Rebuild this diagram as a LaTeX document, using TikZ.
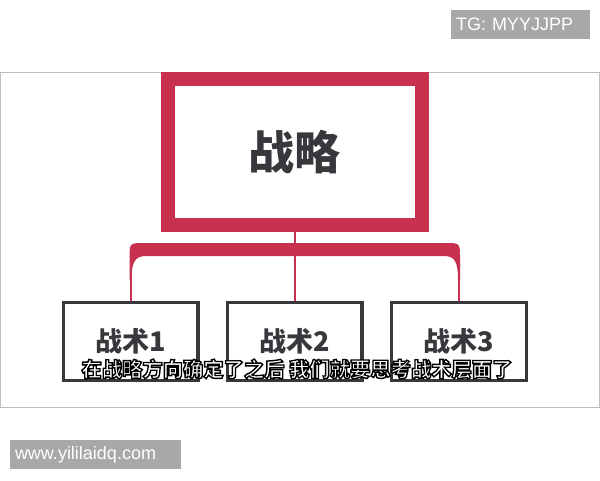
\documentclass[tikz,border=0pt]{standalone}
\usepackage{fontspec}
\setmainfont{Liberation Sans}
\newfontfamily\cjk{Noto Sans CJK SC}

\definecolor{stratred}{RGB}{200,48,80}
\definecolor{boxgray}{RGB}{55,55,60}
\definecolor{tagfill}{RGB}{168,168,168}

% outlined caption text
\newcommand{\outlined}[1]{\special{pdf:literal direct 2 Tr 1.4 w 0 G}#1\special{pdf:literal direct 0 Tr}}

\tikzset{
  tactic/.style={draw=boxgray,
    line width=3.3,
    fill=white,
    minimum width=134.7,
    minimum height=77.7,
    inner sep=0,
    text=boxgray,
    font=\cjk\bfseries\fontsize{27}{27}\selectfont},
  tag/.style={fill=tagfill,
    text=white,
    minimum height=29,
    inner xsep=5,
    inner ysep=0,
    align=left,
    font=\fontsize{18}{18}\selectfont},
  link/.style={draw=stratred, line width=2}
}

\begin{document}
\begin{tikzpicture}[x=1pt,y=-1pt]
    \useasboundingbox[fill=white] (0,0) rectangle (600,480);

    % Slide frame
    \draw[gray!50, line width=1] (0,72) rectangle (599,407);

    % Strategy
    \node[draw=stratred,
      line width=14,
      minimum width=254,
      minimum height=146,
      inner sep=0,
      text=boxgray,
      font=\cjk\bfseries\fontsize{46}{46}\selectfont] (strategy) at (294.5,152) {战略};

    % Tactics
    \node[tactic] (tactic1) at (130.5,341.5) {战术1};
    \node[tactic] (tactic2) at (294.5,341.5) {战术2};
    \node[tactic] (tactic3) at (459,341.5) {战术3};

    % Bracket
    \coordinate (bend1) at (130.5,270);
    \coordinate (bend3) at (459,270);
    \fill[stratred] (129.5,280) -- (129.5,258) .. controls (129.5,243) .. (144.5,243)
      -- (445,243) .. controls (460,243) .. (460,258) -- (460,280) -- (458,280)
      .. controls (458,262) and (455,256) .. (444,256) -- (146,256)
      .. controls (135,256) and (131.5,262) .. (131.5,280) -- cycle;

    % Draw links
    \draw[link] (strategy.south) -- (tactic2.north);
    \draw[link] (bend1) -- (tactic1.north);
    \draw[link] (bend3) -- (tactic3.north);

    % Caption
    \node[text=white,
      font=\cjk\bfseries\fontsize{20.3}{20.3}\selectfont] (caption) at (297,369)
      {\outlined{在战略方向确定了之后 我们就要思考战术层面了}};

    % Tags
    \node[tag, text width=129] (tg) at (520.5,24.5) {TG: MYYJJPP};
    \node[tag, text width=161] (site) at (95.5,454.5) {www.yililaidq.com};
\end{tikzpicture}
\end{document}
